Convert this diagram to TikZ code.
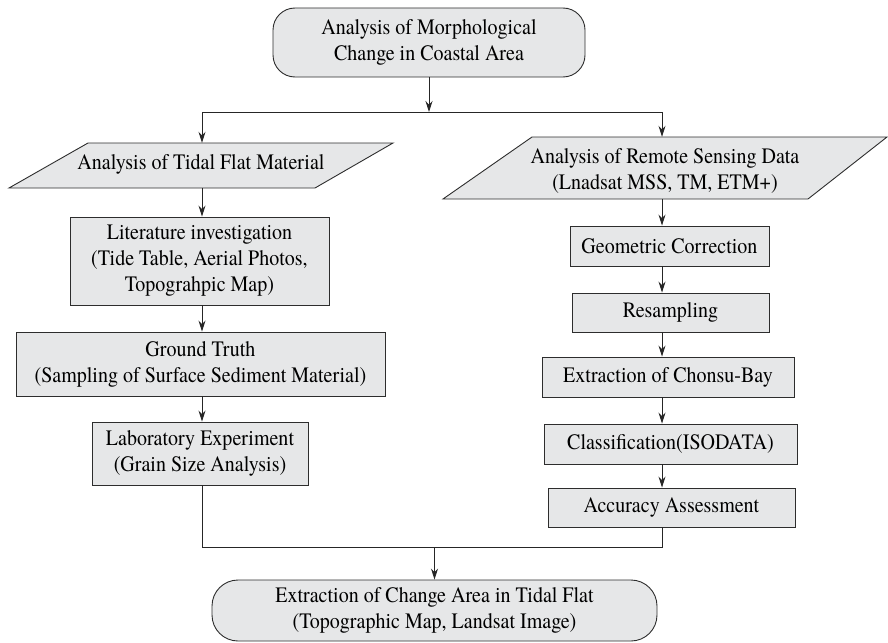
\documentclass[tikz,border=0pt]{standalone}
\usepackage{fontspec}
\setmainfont{TeX Gyre Termes}[FakeStretch=0.91]
\usetikzlibrary{arrows.meta,calc}
\definecolor{boxfill}{RGB}{230,231,232}
\definecolor{edgecol}{RGB}{45,45,45}
\begin{document}
\begin{tikzpicture}[x=1pt,y=-1pt,
  every node/.style={font=\fontsize{22}{26}\selectfont, align=center, inner sep=0pt},
  procbox/.style={draw=edgecol, fill=boxfill, line width=0.9pt, rectangle},
  termbox/.style={draw=edgecol, fill=boxfill, line width=0.9pt, rectangle, rounded corners=22pt},
  parashape/.style={draw=edgecol, fill=boxfill, line width=0.9pt},
  ghost/.style={draw=none, fill=none, rectangle},
  conn/.style={line width=0.9pt, draw=black!85},
  arr/.style={conn, -{Stealth[length=11pt,width=7pt]}}
]
\useasboundingbox (0,0) rectangle (888,642);

% column coordinates
\coordinate (lc) at (202,0);
\coordinate (rc) at (662,0);
\coordinate (jt) at (0,112);
\coordinate (jb) at (0,547);

% terminal boxes
\node[termbox, minimum width=312pt, minimum height=69pt] (top) at (429,42.5)
  {Analysis of Morphological\\Change in Coastal Area};
\node[termbox, rounded corners=26pt, minimum width=445pt, minimum height=61pt] (bot) at (434.5,610.5)
  {Extraction of Change Area in Tidal Flat\\(Topographic Map, Landsat Image)};

% parallelograms
\filldraw[parashape] (88,143) -- (393,143) -- (315,188) -- (9,188) -- cycle;
\node[ghost, minimum width=240pt, minimum height=45pt] (pl) at (201,165.5) {};
\node[ghost] (plt) at (201,164) {Analysis of Tidal Flat Material};

\filldraw[parashape] (532,137) -- (887,137) -- (808,199) -- (443,199) -- cycle;
\node[ghost, minimum width=280pt, minimum height=62pt] (pr) at (665,168) {};
\node[ghost] (prt) at (665,170.5) {Analysis of Remote Sensing Data\\(Lnadsat MSS, TM, ETM+)};

% left column
\node[procbox, minimum width=259pt, minimum height=88pt] (lit) at (199.5,261)
  {Literature investigation\\(Tide Table, Aerial Photos,\\Topograhpic Map)};
\node[procbox, minimum width=369pt, minimum height=64pt] (gt) at (200.5,364)
  {Ground Truth\\(Sampling of Surface Sediment Material)};
\node[procbox, minimum width=216pt, minimum height=63pt] (lab) at (200,453.5)
  {Laboratory Experiment\\(Grain Size Analysis)};

% right column
\node[procbox, minimum width=199pt, minimum height=40pt] (geo) at (669.5,246) {Geometric Correction};
\node[procbox, minimum width=197pt, minimum height=39pt] (res) at (670.5,312.5) {Resampling};
\node[procbox, minimum width=252pt, minimum height=40pt] (ext) at (668,377) {Extraction of Chonsu-Bay};
\node[procbox, minimum width=253pt, minimum height=40pt] (cls) at (670.5,444) {Classification(ISODATA)};
\node[procbox, minimum width=247pt, minimum height=39pt] (acc) at (671.5,507.5) {Accuracy Assessment};

% connectors: top split
\draw[arr] (top.south) -- (top.south |- jt);
\draw[conn] (lc |- jt) -- (rc |- jt);
\draw[arr] (lc |- jt) -- (lc |- pl.north);
\draw[arr] (rc |- jt) -- (rc |- pr.north);

% left chain
\draw[arr] (lc |- pl.south) -- (lc |- lit.north);
\draw[arr] (lc |- lit.south) -- (lc |- gt.north);
\draw[arr] (lc |- gt.south) -- (lc |- lab.north);

% right chain
\draw[arr] (rc |- pr.south) -- (rc |- geo.north);
\draw[arr] (rc |- geo.south) -- (rc |- res.north);
\draw[arr] (rc |- res.south) -- (rc |- ext.north);
\draw[arr] (rc |- ext.south) -- (rc |- cls.north);
\draw[arr] (rc |- cls.south) -- (rc |- acc.north);

% merge
\draw[conn] (lc |- lab.south) -- (lc |- jb) -- (rc |- jb) -- (rc |- acc.south);
\draw[arr] (bot.north |- jb) -- (bot.north);
\end{tikzpicture}
\end{document}
